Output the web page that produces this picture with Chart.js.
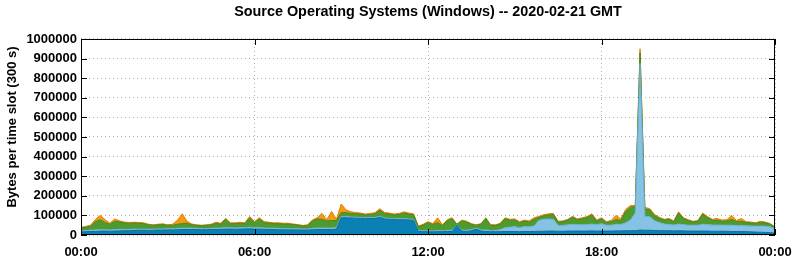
<!DOCTYPE html>
<html>
<head>
<meta charset="utf-8">
<title>Source Operating Systems (Windows)</title>
<script src="https://cdn.jsdelivr.net/npm/chart.js@4.4.1/dist/chart.umd.min.js"></script>
<style>
  html, body { margin: 0; padding: 0; background: #fff; }
  #wrap { width: 795px; height: 260px; }
</style>
</head>
<body>
<div id="wrap"><canvas id="myChart" width="795" height="260"></canvas></div>
<script>
// one slot every 10 minutes, 00:00 .. 24:00
var slots = [];
for (var i = 0; i <= 144; i++) {
  slots.push(i * 10);
}

var hourTicks = ['00:00', '06:00', '12:00', '18:00', '00:00'];

// bytes per slot (bottom layer first)
var darkBlue = [
  16000,17000,18000,18000,20000,20000,19000,20000,21000,22000,
  22000,23000,24000,24000,23000,24000,25000,25000,26000,26000,
  27000,28000,28000,28000,28000,27000,27000,28000,28000,29000,
  30000,30000,29000,30000,31000,32000,30000,
  30000,29000,28000,28000,27000,27000,26000,26000,26000,25000,
  25000,27000,28000,28000,28000,28000,30000,88000,88000,87000,
  86000,85000,84000,84000,84000,90000,82000,80000,79000,78000,
  78000,77000,75000,18000,17000,17000,
  16000,17000,17000,18000,18000,50000,20000,18000,22000,30000,
  20000,18000,17000,17000,17000,18000,18000,18000,17000,18000,
  18000,18000,19000,19000,20000,20000,19000,19000,20000,20000,
  20000,20000,20000,21000,20000,20000,
  20000,20000,21000,21000,22000,22000,22000,25000,24000,24000,
  23000,22000,22000,22000,21000,22000,21000,20000,20000,20000,
  20000,20000,19000,19000,19000,19000,18000,18000,18000,17000,
  16000,15000,14000,13000,12000,10000
];

var lightBlue = [
  6000,6000,7000,8000,8000,7000,7000,8000,8000,7000,
  7000,7000,6000,6000,6000,6000,6000,6000,6000,6000,
  7000,7000,7000,7000,6000,6000,6000,6000,7000,7000,
  8000,7000,7000,7000,7000,8000,7000,
  8000,7000,7000,7000,7000,6000,6000,6000,6000,6000,
  6000,7000,8000,8000,8000,8000,8000,6000,6000,5000,
  5000,5000,5000,5000,5000,6000,5000,5000,5000,5000,
  5000,5000,5000,5000,5000,5000,
  5000,6000,5000,6000,7000,2000,6000,6000,6000,5000,
  6000,8000,6000,7000,10000,20000,22000,25000,20000,25000,
  24000,28000,55000,62000,62000,60000,30000,30000,32000,35000,
  33000,32000,33000,35000,33000,38000,
  30000,30000,34000,33000,40000,55000,90000,850000,70000,70000,
  50000,42000,34000,32000,30000,34000,32000,30000,30000,30000,
  35000,33000,32000,32000,32000,31000,32000,31000,31000,30000,
  30000,30000,32000,32000,30000,22000
];

var green = [
  14000,16000,21000,42000,50000,36000,29000,42000,38000,33000,
  31000,31000,30000,28000,23000,19000,21000,22000,17000,18000,
  21000,23000,25000,17000,15000,14000,16000,17000,25000,20000,
  42000,21000,22000,23000,20000,47000,26000,
  44000,27000,26000,23000,24000,23000,24000,21000,18000,15000,
  17000,37000,46000,44000,36000,38000,36000,20000,20000,18000,
  18000,17000,13000,16000,19000,30000,22000,22000,18000,22000,
  29000,25000,23000,19000,29000,41000,
  33000,40000,26000,49000,58000,2000,46000,42000,27000,14000,
  29000,58000,26000,25000,29000,45000,35000,34000,26000,28000,
  24000,34000,16000,17000,20000,25000,17000,19000,24000,36000,
  25000,31000,36000,46000,18000,25000,
  14000,18000,23000,20000,58000,65000,32000,55000,38000,35000,
  26000,21000,20000,26000,17000,57000,31000,24000,16000,20000,
  51000,36000,24000,25000,19000,22000,30000,20000,21000,17000,
  16000,14000,19000,17000,13000,8000
];

var orange = [
  3000,5000,4000,12000,22000,15000,5000,12000,5000,4000,
  4000,4000,4000,4000,3000,3000,3000,4000,3000,5000,
  20000,50000,10000,4000,3000,3000,3000,4000,5000,4000,
  5000,4000,4000,5000,4000,8000,5000,
  6000,5000,4000,4000,4000,4000,4000,3000,3000,3000,
  4000,5000,6000,30000,6000,46000,6000,44000,14000,8000,
  6000,5000,5000,5000,6000,8000,6000,5000,5000,5000,
  6000,5000,5000,3000,4000,5000,
  4000,25000,4000,5000,5000,1000,4000,4000,3000,3000,
  3000,4000,3000,3000,4000,5000,5000,5000,5000,5000,
  6000,8000,5000,6000,6000,5000,4000,4000,4000,4000,
  4000,5000,5000,6000,5000,5000,
  4000,6000,22000,8000,10000,8000,6000,20000,8000,6000,
  6000,5000,4000,4000,4000,5000,4000,4000,4000,4000,
  6000,5000,5000,8000,6000,6000,20000,5000,14000,4000,
  4000,3000,5000,4000,3000,2000
];

var fontFamily = '"Liberation Sans", Arial, Helvetica, sans-serif';

function makeSet(label, values, fillColor, lineColor, fillTo) {
  var points = [];
  values.forEach(function(v, i) {
    points.push({x: slots[i], y: v});
  });
  return {
    label: label,
    data: points,
    backgroundColor: fillColor,
    borderColor: lineColor,
    borderWidth: 1,
    pointRadius: 0,
    tension: 0,
    fill: fillTo
  };
}

// gnuplot style frame with inward ticks, plus the rotated y label
var framePlugin = {
  id: 'frame',
  afterDatasetsDraw: function(chart) {
    var ctx = chart.ctx;
    var a = chart.chartArea;
    var ys = chart.scales.y;
    var xs = chart.scales.x;
    ctx.save();
    ctx.strokeStyle = '#000';
    ctx.lineWidth = 1;
    ctx.strokeRect(Math.round(a.left) + 0.5, Math.round(a.top) + 0.5,
      Math.round(a.right - a.left) - 1, Math.round(a.bottom - a.top) - 1);
    ctx.beginPath();
    ys.ticks.forEach(function(t) {
      var py = Math.round(ys.getPixelForValue(t.value)) + 0.5;
      ctx.moveTo(a.left, py); ctx.lineTo(a.left + 6, py);
      ctx.moveTo(a.right - 6, py); ctx.lineTo(a.right, py);
    });
    xs.ticks.forEach(function(t) {
      var px = Math.round(xs.getPixelForValue(t.value)) + 0.5;
      ctx.moveTo(px, a.bottom); ctx.lineTo(px, a.bottom - 6);
      ctx.moveTo(px, a.top); ctx.lineTo(px, a.top + 6);
    });
    ctx.stroke();

    ctx.translate(12, 127);
    ctx.rotate(-Math.PI / 2);
    ctx.fillStyle = '#000';
    ctx.font = 'bold 13px ' + fontFamily;
    ctx.textAlign = 'center';
    ctx.textBaseline = 'middle';
    ctx.fillText('Bytes per time slot (300 s)', 0, 0);
    ctx.restore();
  }
};

var ctx = document.getElementById('myChart');
var myChart = new Chart(ctx, {
  type: 'line',
  data: {
    datasets: [
      makeSet('Windows (a)', darkBlue, '#0a80b4', '#0b6d99', 'origin'),
      makeSet('Windows (b)', lightBlue, '#86c2e4', '#6aaed4', '-1'),
      makeSet('Windows (c)', green, '#4e9a2c', '#3f8822', '-1'),
      makeSet('Windows (d)', orange, '#f39a10', '#e87a00', '-1')
    ]
  },
  options: {
    responsive: false,
    animation: false,
    devicePixelRatio: 1,
    layout: { padding: { left: 0, right: 20, top: 0, bottom: 0 } },
    plugins: {
      legend: { display: false },
      tooltip: { enabled: false },
      title: {
        display: true,
        fullSize: false,
        text: 'Source Operating Systems (Windows) -- 2020-02-21 GMT',
        color: '#000',
        font: { family: fontFamily, size: 14.4, weight: 'bold' },
        padding: { top: 3.5, bottom: 18.2 }
      }
    },
    scales: {
      x: {
        type: 'linear',
        min: 0,
        max: 1440,
        afterFit: function(s) { s.height = 25; },
        afterBuildTicks: function(s) {
          s.ticks = hourTicks.map(function(lbl, k) { return {value: k * 360}; });
        },
        ticks: {
          color: '#000',
          padding: 0,
          maxRotation: 0,
          autoSkip: false,
          font: { family: fontFamily, size: 13, weight: 'bold' },
          callback: function(v, k) { return hourTicks[k]; }
        },
        grid: { color: '#b0b0b0', drawTicks: true, tickLength: 10, tickColor: 'rgba(0,0,0,0)' },
        border: { display: false, dash: [1, 3] }
      },
      y: {
        stacked: true,
        min: 0,
        max: 1000000,
        afterFit: function(s) { s.width = 81; },
        ticks: {
          stepSize: 100000,
          color: '#000',
          padding: 4,
          font: { family: fontFamily, size: 13, weight: 'bold' },
          callback: function(v) { return String(v); }
        },
        grid: { color: '#b0b0b0', drawTicks: false },
        border: { display: false, dash: [1, 3] }
      }
    }
  },
  plugins: [framePlugin]
});
</script>
</body>
</html>
